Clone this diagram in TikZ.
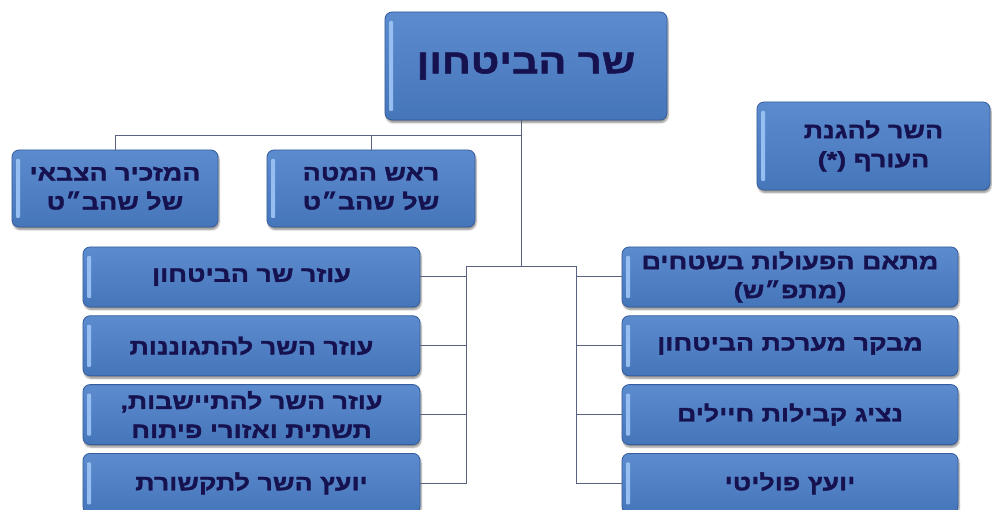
\documentclass[tikz,border=0pt]{standalone}
\usepackage{fontspec}
\usetikzlibrary{positioning,chains,shadows.blur,calc}
\newfontfamily\hebfont[Script=Hebrew,FakeStretch=1.22,FakeBold=1.6]{Liberation Sans}
\TeXXeTstate=1
\newcommand{\heb}[1]{\beginR #1\endR}
\definecolor{boxtop}{RGB}{92,140,206}
\definecolor{boxbottom}{RGB}{70,118,186}
\definecolor{boxedge}{RGB}{52,92,156}
\definecolor{boxlight}{RGB}{150,190,240}
\definecolor{navytext}{RGB}{22,18,80}
\definecolor{linkgrey}{RGB}{88,98,128}
\tikzset{
   orgbox/.style={draw=boxedge, line width=0.8pt, rounded corners=7pt,
                  top color=boxtop, bottom color=boxbottom, text=navytext,
                  font={\hebfont\bfseries\fontsize{22}{29}\selectfont}, align=center,
                  blur shadow={shadow xshift=1pt, shadow yshift=-2.5pt, shadow blur steps=6, shadow opacity=45},
                  path picture={\fill[boxlight,rounded corners=1pt]
                     ([xshift=4pt,yshift=-9pt]path picture bounding box.north west) rectangle
                     ([xshift=8pt,yshift=9pt]path picture bounding box.south west);}
   },
   bigtext/.style={font={\hebfont\bfseries\fontsize{34}{40}\selectfont}}
}

\begin{document}
\begin{tikzpicture}[x=1pt,y=1pt]
\tikzstyle{link}=[draw=linkgrey,line width=1pt]

\clip (0,0) rectangle (992,509);

%% Minister at the top
\node [orgbox,bigtext,minimum width=282pt,minimum height=108pt] (minister) at (526,443) {\heb{שר הביטחון}};

%% Row under the minister
\node [orgbox,minimum width=206pt,minimum height=77pt] (secretary) at (115,320.5)
      {\heb{המזכיר הצבאי}\\\heb{של שהב״ט}};
\node [orgbox,minimum width=208pt,minimum height=77pt] (chiefstaff) at (371,320.5)
      {\heb{ראש המטה}\\\heb{של שהב״ט}};
\node [orgbox,minimum width=233pt,minimum height=88pt] (homefront) at (873.5,363)
      {\heb{השר להגנת}\\\heb{העורף \beginL(*)\endL}};

%% Left column
\begin{scope}[start chain=aides going below,node distance=8pt]
    \node [on chain=aides,orgbox,minimum width=337pt,minimum height=60pt] (aide1) at (251.5,232) {\heb{עוזר שר הביטחון}};
    \node [on chain=aides,orgbox,minimum width=337pt,minimum height=60pt] (aide2) {\heb{עוזר השר להתגוננות}};
    \node [on chain=aides,orgbox,minimum width=337pt,minimum height=60pt] (aide3) {\heb{עוזר השר להתיישבות,}\\\heb{תשתית ואזורי פיתוח}};
    \node [on chain=aides,orgbox,minimum width=337pt,minimum height=60pt] (aide4) {\heb{יועץ השר לתקשורת}};
\end{scope}

%% Right column
\begin{scope}[start chain=advisers going below,node distance=8pt]
    \node [on chain=advisers,orgbox,minimum width=336pt,minimum height=60pt] (adv1) at (790,232) {\heb{מתאם הפעולות בשטחים}\\\heb{(מתפ״ש)}};
    \node [on chain=advisers,orgbox,minimum width=336pt,minimum height=60pt] (adv2) {\heb{מבקר מערכת הביטחון}};
    \node [on chain=advisers,orgbox,minimum width=336pt,minimum height=60pt] (adv3) {\heb{נציג קבילות חיילים}};
    \node [on chain=advisers,orgbox,minimum width=336pt,minimum height=60pt] (adv4) {\heb{יועץ פוליטי}};
\end{scope}

%% Connectors
\draw[link] ([xshift=-5pt]minister.south) -- ++(0,-15) coordinate (bus);
\draw[link] (bus) -| (secretary.north);
\draw[link] (bus) -| (chiefstaff.north);
\draw[link] (bus) -- ++(0,-131) coordinate (hub);
\coordinate (lspine) at ($(hub)+(-55,0)$);
\coordinate (rspine) at ($(hub)+(55,0)$);
\draw[link] (lspine) -- (rspine);
\draw[link] (lspine) |- (aide4.east);
\draw[link] (rspine) |- (adv4.west);
\foreach \n in {1,2,3}{
    \draw[link] (lspine |- aide\n.east) -- (aide\n.east);
    \draw[link] (rspine |- adv\n.west) -- (adv\n.west);
}

\end{tikzpicture}
\end{document}
